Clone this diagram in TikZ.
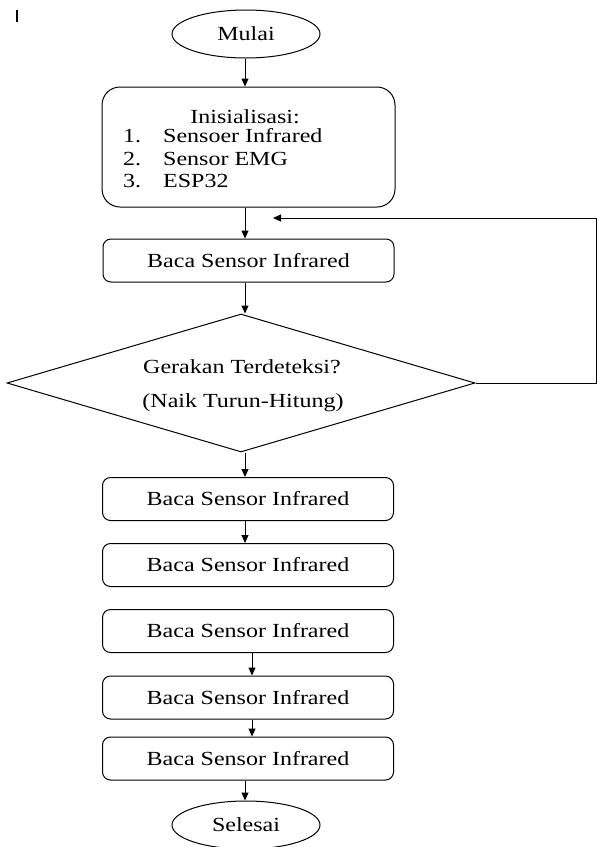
\documentclass[tikz,border=0pt]{standalone}
\usepackage{fontspec}
\setmainfont{Liberation Serif}[FakeStretch=1.2]
\usetikzlibrary{shapes.geometric,arrows.meta,calc}
\begin{document}
\begin{tikzpicture}[x=1pt,y=-1pt, font=\fontsize{20}{24}\selectfont,
  lw/.style={line width=1pt},
  procbox/.style={draw, lw, rounded corners=8pt, minimum width=291pt, minimum height=43pt, inner sep=0pt},
  term/.style={draw, lw, ellipse, minimum width=148pt, minimum height=48pt, inner sep=0pt},
  arr/.style={lw, -{Triangle[length=8pt,width=7pt]}},
  txt/.style={inner sep=0pt}]
\useasboundingbox (0,0) rectangle (597,847);
% stray cursor mark
\draw[line width=1.5pt] (17,10) -- (17,22);
% nodes
\node[term] (start) at (246,34) {Mulai};
\node[procbox, rounded corners=18pt, minimum width=293pt, minimum height=120pt] (init) at (248.5,147) {};
\node[txt, anchor=base] (t0) at (245,123) {Inisialisasi:};
\node[txt, anchor=base west] (n1) at (123,142) {1.};
\node[txt, anchor=base west] (i1) at (163,142) {Sensoer Infrared};
\node[txt, anchor=base west] (n2) at (123,165) {2.};
\node[txt, anchor=base west] (i2) at (163,165) {Sensor EMG};
\node[txt, anchor=base west] (n3) at (123,187) {3.};
\node[txt, anchor=base west] (i3) at (163,187) {ESP32};
\node[procbox] (b1) at (248.5,260.5) {Baca Sensor Infrared};
\node[draw, lw, diamond, minimum width=468pt, minimum height=138pt, inner sep=0pt] (dec) at (241,383) {};
\node[txt] (q1) at (242,367) {Gerakan Terdeteksi?};
\node[txt] (q2) at (243,403) {(Naik Turun-Hitung)};
\node[procbox] (b2) at (248,499) {Baca Sensor Infrared};
\node[procbox] (b3) at (248,565) {Baca Sensor Infrared};
\node[procbox] (b4) at (248,631) {Baca Sensor Infrared};
\node[procbox] (b5) at (248,697.5) {Baca Sensor Infrared};
\node[procbox] (b6) at (248,758.5) {Baca Sensor Infrared};
\node[term] (end) at (246,825) {Selesai};
% helper coordinates
\coordinate (ax) at (245,0);
\coordinate (bx) at (252,0);
\coordinate (rx) at (596,0);
\coordinate (lp) at (273,218);
% connectors
\draw[arr] (start.south -| ax) -- (init.north -| ax);
\draw[arr] (init.south -| ax) -- (b1.north -| ax);
\draw[arr] (b1.south -| ax) -- (dec.north -| ax);
\draw[arr] (dec.south -| ax) -- (b2.north -| ax);
\draw[arr] (b2.south -| ax) -- (b3.north -| ax);
\draw[arr] (b4.south -| bx) -- (b5.north -| bx);
\draw[arr] (b5.south -| bx) -- (b6.north -| bx);
\draw[arr] (b6.south -| ax) -- (end.north -| ax);
\draw[arr] (dec.east) -- (dec.east -| rx) -- (lp -| rx) -- (lp);
\end{tikzpicture}
\end{document}
